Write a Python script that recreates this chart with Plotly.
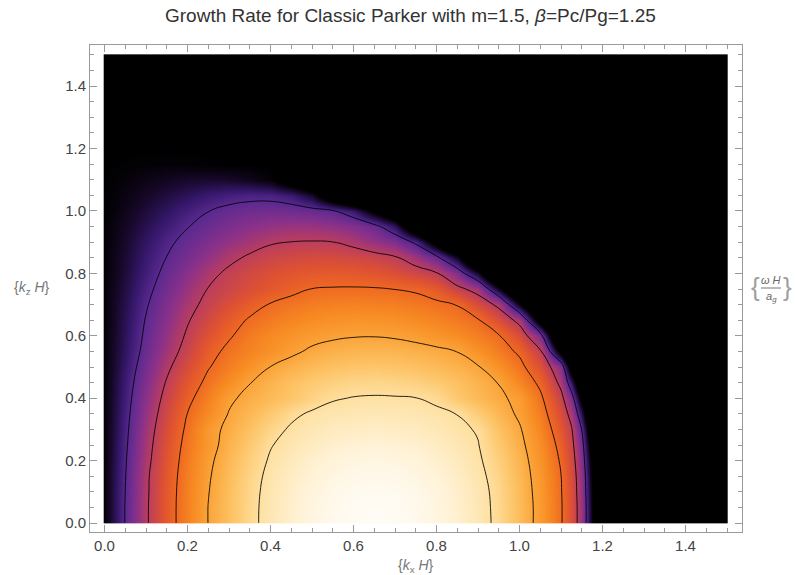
import plotly.graph_objects as go

# grid nodes (kx columns, kz rows)
kx = [0.0, 0.004, 0.025, 0.05, 0.1, 0.15, 0.2, 0.25, 0.3, 0.35, 0.4, 0.45, 0.5, 0.55,
      0.6, 0.65, 0.7, 0.75, 0.8, 0.85, 0.9, 0.95, 1.0, 1.05, 1.1, 1.125, 1.15, 1.175,
      1.2, 1.496, 1.5]
kz = [0.0, 0.004, 0.05, 0.1, 0.15, 0.2, 0.25, 0.3, 0.35, 0.4, 0.45, 0.5, 0.55, 0.6,
      0.65, 0.7, 0.75, 0.8, 0.85, 0.9, 0.95, 1.0, 1.05, 1.1, 1.15, 1.2, 1.496, 1.5]

# growth rate omega*H/a_g (in units of the contour spacing);
# values <= 0 (stable region) all show as black
r000 = [0.05, 0.13, 0.53, 1.02, 1.91, 2.69, 3.38, 4.01, 4.43, 4.85, 5.20, 5.45, 5.65, 5.79, 5.87, 5.90, 5.87, 5.79, 5.65, 5.46, 5.22, 4.87, 4.37, 3.81, 3.06, 2.46, 1.63, 0.13, -1.54, 0, 0]
r004 = [0.05, 0.13, 0.53, 1.02, 1.91, 2.69, 3.38, 4.01, 4.43, 4.85, 5.20, 5.45, 5.65, 5.79, 5.87, 5.90, 5.87, 5.79, 5.65, 5.46, 5.22, 4.87, 4.37, 3.81, 3.06, 2.46, 1.63, 0.13, -1.54, 0, 0]
r005 = [0.05, 0.13, 0.53, 1.02, 1.91, 2.69, 3.38, 4.01, 4.43, 4.85, 5.19, 5.43, 5.63, 5.77, 5.85, 5.88, 5.85, 5.77, 5.63, 5.44, 5.21, 4.86, 4.37, 3.81, 3.06, 2.46, 1.63, 0.13, -1.54, 0, 0]
r010 = [0.05, 0.13, 0.53, 1.00, 1.89, 2.68, 3.36, 3.98, 4.41, 4.83, 5.17, 5.41, 5.60, 5.73, 5.81, 5.84, 5.81, 5.74, 5.61, 5.42, 5.19, 4.84, 4.35, 3.78, 3.04, 2.44, 1.58, 0.07, -1.6, 0, 0]
r015 = [0.05, 0.12, 0.52, 0.98, 1.88, 2.65, 3.33, 3.94, 4.37, 4.79, 5.13, 5.36, 5.53, 5.66, 5.73, 5.76, 5.74, 5.66, 5.54, 5.37, 5.14, 4.79, 4.31, 3.74, 3.01, 2.40, 1.53, 0, -1.67, 0, 0]
r020 = [0.05, 0.12, 0.50, 0.95, 1.81, 2.59, 3.28, 3.88, 4.31, 4.71, 5.06, 5.28, 5.45, 5.56, 5.64, 5.66, 5.64, 5.57, 5.45, 5.29, 5.08, 4.70, 4.25, 3.67, 2.93, 2.32, 1.40, -0.13, -1.8, 0, 0]
r025 = [0.05, 0.12, 0.48, 0.91, 1.75, 2.52, 3.21, 3.78, 4.23, 4.60, 4.97, 5.18, 5.33, 5.44, 5.51, 5.53, 5.51, 5.45, 5.35, 5.20, 5.02, 4.60, 4.16, 3.57, 2.81, 2.21, 1.24, -0.33, -2.0, 0, 0]
r030 = [0.05, 0.12, 0.46, 0.87, 1.68, 2.43, 3.12, 3.80, 4.13, 4.47, 4.81, 5.07, 5.20, 5.30, 5.36, 5.38, 5.36, 5.31, 5.23, 5.10, 4.96, 4.47, 4.06, 3.44, 2.64, 2.07, 0.98, -0.67, -2.3, 0, 0]
r035 = [0.05, 0.11, 0.44, 0.83, 1.59, 2.32, 3.01, 3.53, 4.03, 4.31, 4.60, 4.89, 5.07, 5.15, 5.20, 5.22, 5.21, 5.17, 5.10, 4.99, 4.65, 4.30, 3.90, 3.29, 2.43, 1.77, 0.47, -1.2, -2.5, 0, 0]
r040 = [0.05, 0.11, 0.42, 0.78, 1.50, 2.19, 2.84, 3.37, 3.90, 4.16, 4.35, 4.55, 4.76, 4.96, 5.02, 5.04, 5.03, 5.01, 4.90, 4.57, 4.34, 4.10, 3.86, 3.12, 2.20, 1.32, -0.2, -1.9, 0, 0, 0]
r045 = [0.05, 0.10, 0.39, 0.73, 1.39, 2.05, 2.64, 3.16, 3.57, 3.98, 4.24, 4.45, 4.61, 4.73, 4.80, 4.82, 4.80, 4.73, 4.61, 4.45, 4.24, 3.98, 3.45, 2.87, 1.82, 0.56, -1.0, -2.5, 0, 0, 0]
r050 = [0.05, 0.10, 0.36, 0.67, 1.28, 1.88, 2.43, 2.96, 3.32, 3.66, 4.01, 4.21, 4.36, 4.47, 4.53, 4.55, 4.52, 4.46, 4.36, 4.22, 4.04, 3.64, 3.19, 2.49, 1.50, -0.47, -2.0, 0, 0, 0, 0]
r055 = [0.05, 0.09, 0.33, 0.61, 1.16, 1.71, 2.22, 2.78, 3.15, 3.40, 3.64, 3.89, 4.09, 4.20, 4.26, 4.28, 4.26, 4.20, 4.12, 3.99, 3.65, 3.30, 2.89, 2.10, -0.22, -1.6, 0, 0, 0, 0, 0]
r060 = [0.05, 0.09, 0.31, 0.57, 1.09, 1.59, 2.08, 2.54, 2.93, 3.28, 3.50, 3.69, 3.83, 3.92, 3.97, 3.98, 3.94, 3.85, 3.71, 3.54, 3.31, 3.04, 2.42, 1.30, -1.5, -2.5, 0, 0, 0, 0, 0]
r065 = [0.05, 0.09, 0.29, 0.54, 1.03, 1.49, 1.95, 2.35, 2.73, 3.07, 3.27, 3.44, 3.56, 3.64, 3.68, 3.67, 3.63, 3.54, 3.42, 3.25, 3.05, 2.47, 1.80, -0.43, -2.6, 0, 0, 0, 0, 0, 0]
r070 = [0.05, 0.08, 0.28, 0.50, 0.95, 1.38, 1.81, 2.17, 2.46, 2.76, 3.04, 3.19, 3.29, 3.36, 3.38, 3.36, 3.32, 3.23, 3.12, 2.98, 2.41, 1.85, 0.10, -1.5, 0, 0, 0, 0, 0, 0, 0]
r075 = [0.05, 0.08, 0.25, 0.45, 0.86, 1.25, 1.65, 2.02, 2.24, 2.46, 2.66, 2.85, 3.01, 3.04, 3.05, 3.04, 2.99, 2.92, 2.70, 2.17, 1.75, 0.26, -1.33, -2.9, 0, 0, 0, 0, 0, 0, 0]
r080 = [0.04, 0.07, 0.22, 0.40, 0.77, 1.13, 1.48, 1.83, 2.12, 2.33, 2.49, 2.61, 2.68, 2.70, 2.67, 2.60, 2.47, 2.29, 2.05, 1.38, 0.30, -1.5, -3.0, 0, 0, 0, 0, 0, 0, 0, 0]
r085 = [0.04, 0.06, 0.20, 0.36, 0.69, 1.01, 1.29, 1.58, 1.86, 2.09, 2.23, 2.32, 2.37, 2.36, 2.31, 2.21, 2.07, 1.68, 1.16, 0.20, -1.45, -3.0, 0, 0, 0, 0, 0, 0, 0, 0, 0]
r090 = [0.03, 0.05, 0.17, 0.32, 0.61, 0.90, 1.15, 1.38, 1.58, 1.76, 1.95, 2.01, 2.03, 2.01, 1.85, 1.60, 1.40, 0.90, -0.3, -1.6, -3.0, 0, 0, 0, 0, 0, 0, 0, 0, 0, 0]
r095 = [0.03, 0.04, 0.15, 0.27, 0.50, 0.74, 0.98, 1.17, 1.34, 1.48, 1.59, 1.65, 1.64, 1.56, 1.41, 1.17, 0.60, -0.8, -1.9, -3.0, 0, 0, 0, 0, 0, 0, 0, 0, 0, 0, 0]
r100 = [0.02, 0.03, 0.10, 0.20, 0.40, 0.60, 0.80, 0.99, 1.13, 1.21, 1.25, 1.23, 1.16, 1.05, 0.70, -0.1, -0.75, -2.0, -3.0, 0, 0, 0, 0, 0, 0, 0, 0, 0, 0, 0, 0]
r105 = [0.02, 0.02, 0.07, 0.14, 0.28, 0.42, 0.56, 0.70, 0.80, 0.86, 0.85, 0.70, 0.30, -0.66, -1.3, -1.4, -2.0, 0, 0, 0, 0, 0, 0, 0, 0, 0, 0, 0, 0, 0, 0]
r110 = [0.01, 0.01, 0.04, 0.08, 0.16, 0.24, 0.30, 0.32, 0.30, 0.20, 0.05, -0.47, -0.9, -1.5, 0, 0, 0, 0, 0, 0, 0, 0, 0, 0, 0, 0, 0, 0, 0, 0, 0]
r115 = [0, 0, 0.01, 0.02, 0.04, 0.05, 0.04, 0.02, 0, 0, 0, 0, 0, 0, 0, 0, 0, 0, 0, 0, 0, 0, 0, 0, 0, 0, 0, 0, 0, 0, 0]
r120 = [0] * 31
r1496 = [0] * 31
r150 = [0] * 31

growth = [r000, r004, r005, r010, r015, r020, r025, r030, r035, r040, r045, r050, r055,
          r060, r065, r070, r075, r080, r085, r090, r095, r100, r105, r110, r115, r120,
          r1496, r150]

contour_start, contour_end, contour_step = 1, 5, 1
z_max = 6.0

tick_vals = [0.0, 0.2, 0.4, 0.6, 0.8, 1.0, 1.2, 1.4]
tick_text = ["0.0", "0.2", "0.4", "0.6", "0.8", "1.0", "1.2", "1.4"]

sunset = [
    [0.00, "#000000"],
    [0.05, "#170829"],
    [0.11, "#36186c"],
    [0.167, "#5b2a91"],
    [0.25, "#8b318a"],
    [0.333, "#bc3e5d"],
    [0.42, "#de5133"],
    [0.50, "#ef6a22"],
    [0.583, "#f78a22"],
    [0.667, "#fba53a"],
    [0.75, "#fdc466"],
    [0.833, "#fee0a0"],
    [0.92, "#fff2d6"],
    [1.00, "#ffffff"],
]

fig = go.Figure()
fig.add_trace(go.Heatmap(
    x=kx, y=kz, z=growth, zsmooth="best", colorscale=sunset,
    zmin=0, zmax=z_max, showscale=False, hoverinfo="skip"))
fig.add_trace(go.Contour(
    x=kx, y=kz, z=growth,
    contours=dict(start=contour_start, end=contour_end, size=contour_step, coloring="none"),
    line=dict(color="rgba(0,0,0,0.85)", width=1, smoothing=1.3),
    showscale=False, hoverinfo="skip"))

L, R, T, B = 90, 54, 45, 43
W, H = 796, 575
pw, ph = W - L - R, H - T - B

def px_x(px):
    return (px - L) / pw

def px_y(py):
    return (H - B - py) / ph

axis_common = dict(
    showline=True, linecolor="#9a9a9a", linewidth=1, mirror="allticks",
    ticks="inside", ticklen=7, tickcolor="#9a9a9a", tickwidth=1,
    tickvals=tick_vals, ticktext=tick_text,
    tickfont=dict(family="Liberation Sans, Arial", size=15, color="#444444"),
    showgrid=False, zeroline=False,
    minor=dict(dtick=0.05, tick0=0, ticks="inside", ticklen=4, tickcolor="#9a9a9a", showgrid=False),
)

fig.update_layout(
    width=W, height=H, autosize=False,
    margin=dict(l=L, r=R, t=T, b=B),
    paper_bgcolor="white", plot_bgcolor="white",
    showlegend=False,
    xaxis=dict(range=[-0.035, 1.5361], **axis_common),
    yaxis=dict(range=[-0.0288, 1.532], **axis_common),
)

label_font = dict(family="Liberation Sans, Arial", size=14, color="#777777")
brace_font = dict(family="Liberation Sans, Arial", size=26, color="#a0a0a0")

annotations = [
    dict(text="Growth Rate for Classic Parker with m=1.5, <i>β</i>=Pc/Pg=1.25",
         x=px_x(410), y=px_y(15), xref="paper", yref="paper", showarrow=False,
         xanchor="center", yanchor="middle",
         font=dict(family="Liberation Sans, Arial", size=19, color="#333333")),
    dict(text="{<i>k</i><sub>x</sub> <i>H</i>}", x=px_x(416), y=px_y(566),
         xref="paper", yref="paper", showarrow=False, xanchor="center", yanchor="middle",
         font=label_font),
    dict(text="{<i>k</i><sub>z</sub> <i>H</i>}", x=px_x(32), y=px_y(288),
         xref="paper", yref="paper", showarrow=False, xanchor="center", yanchor="middle",
         font=label_font),
    dict(text="{", x=px_x(755), y=px_y(287), xref="paper", yref="paper", showarrow=False,
         xanchor="center", yanchor="middle", font=brace_font),
    dict(text="}", x=px_x(787), y=px_y(287), xref="paper", yref="paper", showarrow=False,
         xanchor="center", yanchor="middle", font=brace_font),
    dict(text="<i>ω H</i>", x=px_x(771), y=px_y(280), xref="paper", yref="paper",
         showarrow=False, xanchor="center", yanchor="middle",
         font=dict(family="Liberation Sans, Arial", size=11, color="#666666")),
    dict(text="<i>a<sub>g</sub></i>", x=px_x(771), y=px_y(297), xref="paper", yref="paper",
         showarrow=False, xanchor="center", yanchor="middle",
         font=dict(family="Liberation Sans, Arial", size=11, color="#666666")),
]
fig.update_layout(annotations=annotations)
fig.add_shape(type="line", xref="paper", yref="paper",
              x0=px_x(761), x1=px_x(781), y0=px_y(288), y1=px_y(288),
              line=dict(color="#777777", width=1))

fig.write_html("out.html", config={"displayModeBar": False},
               post_script="document.body.style.margin='0';document.body.style.padding='0';")
